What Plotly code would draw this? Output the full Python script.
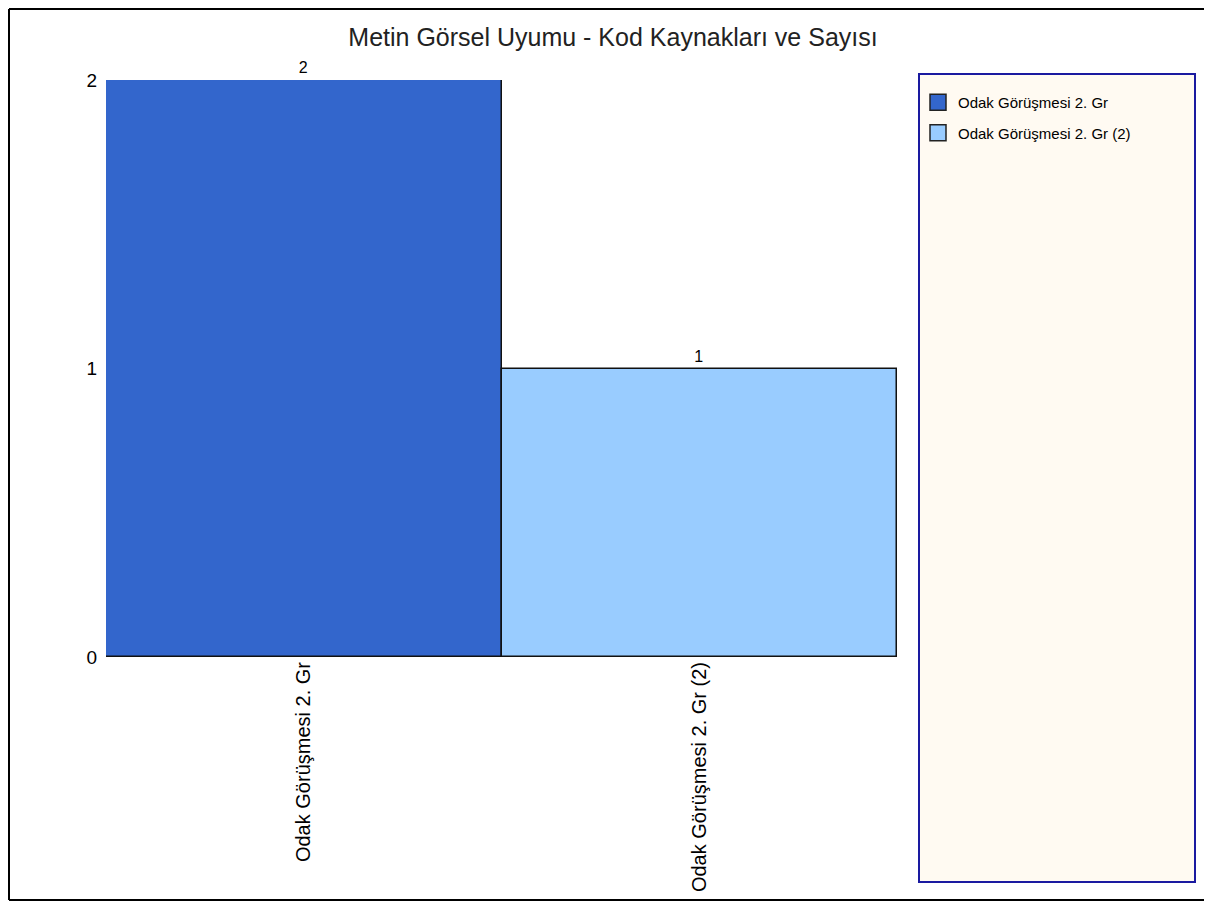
import plotly.graph_objects as go

categories = ["Odak Görüşmesi 2. Gr", "Odak Görüşmesi 2. Gr (2)"]
values = [2, 1]
colors = ["#3366CC", "#99CCFF"]
title = "Metin Görsel Uyumu - Kod Kaynakları ve Sayısı"

OFF = 8  # page body margin
W, H = 1212 - OFF, 903 - OFF
# target page coordinates of the plot area
PL, PR, PT, PB = 106, 897, 80, 657
L, T = PL - OFF, PT - OFF
R, B = W - (PR - OFF), H - (PB - OFF)
pw, ph = W - L - R, H - T - B

def px(x):
    return (x - OFF - L) / pw

def py(y):
    return (H - B - (y - OFF)) / ph

fig = go.Figure()
for cat, val, col in zip(categories, values, colors):
    fig.add_trace(go.Bar(
        x=[cat], y=[val], name=cat, legendgroup=cat, showlegend=False,
        marker=dict(color=col, line=dict(color="#111111", width=1.5)),
        text=[str(val)], textposition="outside",
        textfont=dict(size=16, color="#000000", family="Liberation Sans, Arial"),
        cliponaxis=False,
    ))
# legend entries with larger square swatches
for cat, col in zip(categories, colors):
    fig.add_trace(go.Scatter(
        x=[None], y=[None], mode="markers", name=cat, legendgroup=cat,
        marker=dict(symbol="square", size=16, color=col,
                    line=dict(color="#222222", width=1.5)),
    ))

border = dict(color="#000000", width=2)
fig.update_layout(
    width=W, height=H,
    margin=dict(l=L, r=R, t=T, b=B),
    paper_bgcolor="white", plot_bgcolor="white",
    barmode="overlay", bargap=0,
    font=dict(family="Liberation Sans, Arial", color="#000000"),
    title=dict(text=title, x=(613 - OFF) / W, xanchor="center", y=1 - (37 - OFF) / H,
               yanchor="middle", font=dict(size=25, color="#222222")),
    xaxis=dict(type="category", tickangle=-90, tickfont=dict(size=20),
               showgrid=False, showline=False, ticks="", ticklen=0),
    yaxis=dict(range=[0, 2], tickvals=[0, 1, 2], tickfont=dict(size=19),
               showgrid=True, gridcolor="#D4D4D4", gridwidth=1, zeroline=False,
               ticks="outside", ticklen=4, tickcolor="rgba(0,0,0,0)"),
    legend=dict(x=px(918), y=py(86), xanchor="left", yanchor="top",
                bgcolor="rgba(0,0,0,0)", font=dict(size=15), tracegroupgap=8,
                itemsizing="trace"),
    shapes=[
        dict(type="rect", xref="paper", yref="paper", layer="below",
             x0=px(919), x1=px(1195), y0=py(882), y1=py(74),
             fillcolor="#FFFAF2", line=dict(color="#1A1AA0", width=2)),
        dict(type="line", xref="paper", yref="paper",
             x0=px(9), x1=px(9), y0=py(900), y1=py(9), line=border),
        dict(type="line", xref="paper", yref="paper",
             x0=px(9), x1=px(1212), y0=py(9), y1=py(9), line=border),
        dict(type="line", xref="paper", yref="paper",
             x0=px(9), x1=px(1212), y0=py(900), y1=py(900), line=border),
    ],
)

fig.write_html("out.html")
